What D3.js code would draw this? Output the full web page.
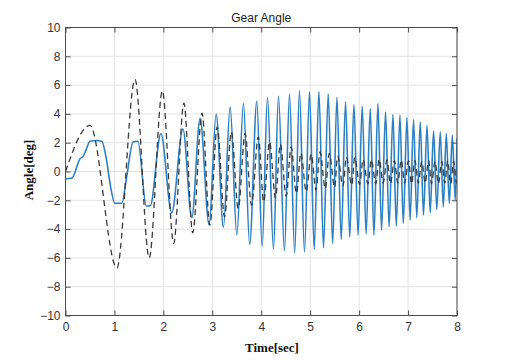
<!DOCTYPE html>
<html>
<head>
<meta charset="utf-8">
<script src="https://cdn.jsdelivr.net/npm/d3@7"></script>
<style>
  body { margin: 0; background: #fff; }
  svg { display: block; }
  .tick text { font-family: "Liberation Sans", Arial, sans-serif; font-size: 12px; fill: #333; }
</style>
</head>
<body>
<div id="chart"></div>
<script>
const timeMeas = [0, 0.13, 0.30, 0.36, 0.42, 0.50, 0.62, 0.74, 0.84, 0.91, 1.01, 1.15, 1.25, 1.38, 1.48,
  1.65, 1.73, 1.95, 2.17, 2.40, 2.58, 2.75, 2.935,
  3.078, 3.227, 3.364, 3.501, 3.636, 3.763, 3.910, 4.018, 4.127, 4.250, 4.352, 4.474, 4.577, 4.683,
  4.781, 4.883, 4.986, 5.082, 5.178, 5.272, 5.368, 5.460, 5.546, 5.634, 5.722, 5.808, 5.894, 5.978,
  6.063, 6.143, 6.227, 6.303, 6.384, 6.458, 6.540, 6.612, 6.691, 6.759, 6.834, 6.902, 6.977, 7.041,
  7.112, 7.178, 7.249, 7.315, 7.387, 7.452, 7.521, 7.587, 7.658, 7.720, 7.781, 7.843, 7.904, 7.965, 8.0];
const angleMeas = [-0.5, -0.45, 0.9, 1.05, 1.5, 2.1, 2.15, 2.1, 0.78, -0.83, -2.2, -2.2, -0.37, 2.05, 2.1,
  -2.4, -2.4, 2.64, -2.87, 2.95, -3.2, 3.68, -3.7,
  3.98, -3.87, 4.49, -4.4, 4.72, -5.05, 4.88, -5.2, 5.14, -5.4, 5.23, -5.5, 5.37, -5.65,
  5.6, -5.58, 5.53, -5.4, 5.53, -5.3, 5.37, -5.0, 5.14, -4.72, 4.83, -4.54, 4.65, -4.42,
  4.53, -4.35, 4.37, -4.42, 4.72, -4.08, 4.14, -3.85, 3.96, -3.8, 3.91, -3.61, 3.75, -3.38,
  3.61, -3.2, 3.44, -3.03, 3.21, -2.87, 2.82, -2.64, 2.75, -2.46, 2.64, -2.22, 2.52, -1.99, 2.3];

// reference angle (black dashed)
const timeRef = [0, 0.5, 1.05, 1.42, 1.71, 1.98, 2.21, 2.42, 2.60, 2.79, 2.95, 3.10, 3.25, 3.39, 3.53,
  3.67, 3.80, 3.94, 4.05, 4.17, 4.29, 4.39, 4.51, 4.61, 4.72, 4.81, 4.92, 5.02, 5.12, 5.20, 5.31,
  5.39, 5.50, 5.56, 5.67, 5.74, 5.85, 5.91, 6.01, 6.08, 6.18, 6.25, 6.34, 6.41, 6.49, 6.57, 6.64,
  6.72, 6.79, 6.86, 6.93, 7.01, 7.07, 7.14, 7.21, 7.28, 7.35, 7.42, 7.48, 7.55, 7.62, 7.69, 7.75,
  7.81, 7.87, 7.93, 7.99, 8.0];
const angleRef = [0, 3.2, -6.7, 6.4, -6.0, 5.6, -5.0, 4.75, -4.26, 4.05, -3.73, 3.1, -3.15, 2.75, -2.57,
  2.64, -2.34, 2.4, -2.1, 2.06, -1.85, 1.9, -1.7, 1.7, -1.53, 1.29, -1.4, 1.2, -1.3, 1.36, -1.2,
  1.25, -1.1, 1.06, -1.0, 1.0, -0.95, 0.97, -0.9, 0.83, -0.85, 0.8, -0.85, 0.85, -0.8, 0.8, -0.85,
  0.75, -0.8, 0.8, -0.8, 0.75, -0.85, 0.75, -0.8, 0.7, -0.8, 0.75, -0.85, 0.7, -0.85, 0.7, -0.8,
  0.75, -0.85, 0.7, -0.8, -0.7];

const xTicks = [0, 1, 2, 3, 4, 5, 6, 7, 8];
const yTicks = [-10, -8, -6, -4, -2, 0, 2, 4, 6, 8, 10];

const W = 519, H = 362;
const m = {t: 27.5, r: 62, b: 46.5, l: 65.5};
const w = W - m.l - m.r;
const h = H - m.t - m.b;

const svg = d3.select('#chart')
  .append('svg')
  .attr('width', W)
  .attr('height', H);

const plot = svg.append('g')
  .attr('transform', `translate(${m.l}, ${m.t})`);

const x = d3.scaleLinear().domain([0, 8]).range([0, w]);
const y = d3.scaleLinear().domain([-10, 10]).range([h, 0]);

// grid
plot.append('g').selectAll('line')
  .data(xTicks)
  .enter().append('line')
  .attr('x1', d => x(d)).attr('x2', d => x(d))
  .attr('y1', 0).attr('y2', h)
  .attr('stroke', '#e3e3e3');
plot.append('g').selectAll('line')
  .data(yTicks)
  .enter().append('line')
  .attr('x1', 0).attr('x2', w)
  .attr('y1', d => y(d)).attr('y2', d => y(d))
  .attr('stroke', '#e3e3e3');

plot.append('clipPath').attr('id', 'clip')
  .append('rect').attr('width', w).attr('height', h);

const line = d3.line().curve(d3.curveMonotoneX);

const measData = timeMeas.map((t, i) => [x(t), y(angleMeas[i])]);
const refData = timeRef.map((t, i) => [x(t), y(angleRef[i])]);

plot.append('path')
  .attr('clip-path', 'url(#clip)')
  .attr('d', line(measData))
  .attr('fill', 'none')
  .attr('stroke', '#2b80c2')
  .attr('stroke-width', 1.6);

plot.append('path')
  .attr('clip-path', 'url(#clip)')
  .attr('d', line(refData))
  .attr('fill', 'none')
  .attr('stroke', '#3a3a3a')
  .attr('stroke-width', 1.3)
  .attr('stroke-dasharray', '6,4');

// axes, ticks pointing inwards like matlab
const fmt = d => d < 0 ? '\u2212' + Math.abs(d) : d;
plot.append('g')
  .attr('transform', `translate(0, ${h})`)
  .call(d3.axisBottom(x).tickValues(xTicks).tickFormat(fmt).tickSizeInner(-5).tickSizeOuter(0).tickPadding(7));
plot.append('g')
  .call(d3.axisLeft(y).tickValues(yTicks).tickFormat(fmt).tickSizeInner(-5).tickSizeOuter(0).tickPadding(5));
plot.append('g')
  .call(d3.axisTop(x).tickValues(xTicks).tickFormat('').tickSizeInner(-5).tickSizeOuter(0));
plot.append('g')
  .attr('transform', `translate(${w}, 0)`)
  .call(d3.axisRight(y).tickValues(yTicks).tickFormat('').tickSizeInner(-5).tickSizeOuter(0));

plot.selectAll('.domain').remove();
plot.selectAll('.tick line').attr('stroke', '#4d4d4d');

plot.append('rect')
  .attr('width', w).attr('height', h)
  .attr('fill', 'none')
  .attr('stroke', '#4d4d4d')
  .attr('stroke-width', 1);

// labels
svg.append('text')
  .attr('x', m.l + w / 2).attr('y', 22)
  .attr('text-anchor', 'middle')
  .style('font-family', '"Liberation Sans", Arial, sans-serif')
  .style('font-size', '12px')
  .style('fill', '#222')
  .text('Gear Angle');

svg.append('text')
  .attr('x', 272).attr('y', 352)
  .attr('text-anchor', 'middle')
  .style('font-family', '"Liberation Serif", "Times New Roman", serif')
  .style('font-weight', 'bold')
  .style('font-size', '13px')
  .style('fill', '#111')
  .text('Time[sec]');

svg.append('text')
  .attr('transform', 'translate(33, 170) rotate(-90)')
  .attr('text-anchor', 'middle')
  .style('font-family', '"Liberation Serif", "Times New Roman", serif')
  .style('font-weight', 'bold')
  .style('font-size', '13px')
  .style('fill', '#111')
  .text('Angle[deg]');
</script>
</body>
</html>
